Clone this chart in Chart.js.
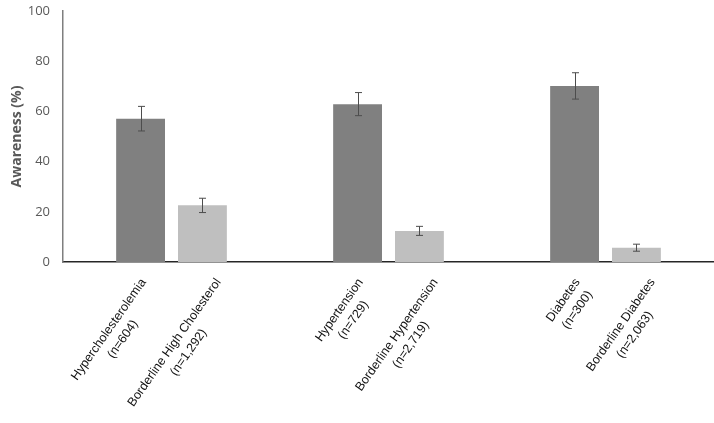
<!DOCTYPE html>
<html>
<head>
<meta charset="utf-8">
<script src="https://cdn.jsdelivr.net/npm/chart.js@4.4.1/dist/chart.umd.min.js"></script>
<style>
  html, body { margin: 0; padding: 0; background: #fff; overflow: hidden; }
  #chart { display: block; }
</style>
</head>
<body>
<canvas id="chart" width="714" height="423"></canvas>
<script>
'use strict';
/*-------------------------------------------------------*\
     Données
\*-------------------------------------------------------*/
// Une catégorie par pathologie, deux barres par catégorie
var categories = ['Hypercholesterolemia', 'Hypertension', 'Diabetes'];
var diagnosedLabels = [
  ['Hypercholesterolemia', '(n=604)'],
  ['Hypertension', '(n=729)'],
  ['Diabetes', '(n=300)']
];
var borderlineLabels = [
  ['Borderline High Cholesterol', '(n=1,292)'],
  ['Borderline Hypertension', '(n=2,719)'],
  ['Borderline Diabetes', '(n=2,063)']
];
// Awareness (%) et intervalles de confiance
var diagnosedValues = [57.1, 62.8, 70.1];
var diagnosedLow = [52.2, 58.3, 64.9];
var diagnosedHigh = [62.0, 67.5, 75.4];
var borderlineValues = [22.6, 12.4, 5.7];
var borderlineLow = [19.7, 10.6, 4.3];
var borderlineHigh = [25.4, 14.2, 7.1];
var yTicks = [0, 20, 40, 60, 80, 100];

/*-------------------------------------------------------*\
     Plugins : barres d'erreur et étiquettes inclinées
\*-------------------------------------------------------*/
var errorBars = {
  id: 'errorBars',
  afterDatasetsDraw: function(chart) {
    var ctx = chart.ctx;
    var yScale = chart.scales.y;
    ctx.save();
    ctx.strokeStyle = '#4d4d4d';
    ctx.lineWidth = 1;
    chart.data.datasets.forEach(function(ds, i) {
      var meta = chart.getDatasetMeta(i);
      meta.data.forEach(function(bar, j) {
        var x = Math.round(bar.x) + 0.5;
        var yl = yScale.getPixelForValue(ds.errLow[j]);
        var yh = yScale.getPixelForValue(ds.errHigh[j]);
        ctx.beginPath();
        ctx.moveTo(x, yl);
        ctx.lineTo(x, yh);
        ctx.moveTo(x - 3.5, yl);
        ctx.lineTo(x + 3.5, yl);
        ctx.moveTo(x - 3.5, yh);
        ctx.lineTo(x + 3.5, yh);
        ctx.stroke();
      });
    });
    ctx.restore();
  }
};

var barLabels = {
  id: 'barLabels',
  afterDraw: function(chart) {
    var ctx = chart.ctx;
    var bottom = chart.chartArea.bottom;
    var angle = -55 * Math.PI / 180;
    var lineHeight = 17;
    ctx.save();
    ctx.font = '12.5px "Liberation Sans", Arial, sans-serif';
    ctx.fillStyle = '#111';
    ctx.textBaseline = 'middle';
    ctx.textAlign = 'center';
    chart.data.datasets.forEach(function(ds, i) {
      var meta = chart.getDatasetMeta(i);
      meta.data.forEach(function(bar, j) {
        var lines = ds.tickLabels[j];
        var w = Math.max.apply(null, lines.map(function(l) { return ctx.measureText(l).width; }));
        ctx.save();
        // le bout de la première ligne vient se placer sous la barre
        ctx.translate(bar.x + ds.labelShift, bottom + 18);
        ctx.rotate(angle);
        lines.forEach(function(l, k) {
          ctx.fillText(l, -w / 2, k * lineHeight);
        });
        ctx.restore();
      });
    });
    ctx.restore();
  }
};

/*-------------------------------------------------------*\
     Création du graphique
\*-------------------------------------------------------*/
var chart = new Chart(document.getElementById('chart').getContext('2d'), {
  type: 'bar',
  data: {
    labels: categories,
    datasets: [{
      label: 'Diagnosed',
      data: diagnosedValues,
      errLow: diagnosedLow,
      errHigh: diagnosedHigh,
      tickLabels: diagnosedLabels,
      labelShift: 3,
      backgroundColor: '#808080'
    }, {
      label: 'Borderline',
      data: borderlineValues,
      errLow: borderlineLow,
      errHigh: borderlineHigh,
      tickLabels: borderlineLabels,
      labelShift: 16,
      backgroundColor: '#bfbfbf'
    }]
  },
  options: {
    responsive: false,
    animation: false,
    devicePixelRatio: 1,
    categoryPercentage: 0.57,
    barPercentage: 0.79,
    layout: {
      padding: { top: 11, left: 0, right: -1, bottom: 161 }
    },
    plugins: {
      legend: { display: false },
      tooltip: { enabled: false }
    },
    scales: {
      x: {
        grid: { display: false, drawTicks: false },
        border: { display: true, color: '#262626', width: 1.5 },
        ticks: { display: false },
        afterFit: function(scale) { scale.height = 0; }
      },
      y: {
        min: 0,
        max: 100,
        afterBuildTicks: function(scale) {
          scale.ticks = yTicks.map(function(v) { return { value: v }; });
        },
        afterFit: function(scale) {
          scale.width = 63;
          scale.paddingTop = 0;
          scale.paddingBottom = 0;
        },
        grid: { display: false, drawTicks: false },
        border: { display: true, color: '#7f7f7f', width: 1.5 },
        ticks: {
          padding: 13,
          color: '#595959',
          font: { family: '"Open Sans", sans-serif', size: 13 }
        },
        title: {
          display: true,
          text: 'Awareness (%)',
          color: '#595959',
          padding: { top: 9, bottom: 0 },
          font: { family: '"Open Sans", sans-serif', size: 14, weight: 'bold' }
        }
      }
    }
  },
  plugins: [errorBars, barLabels]
});
</script>
</body>
</html>
